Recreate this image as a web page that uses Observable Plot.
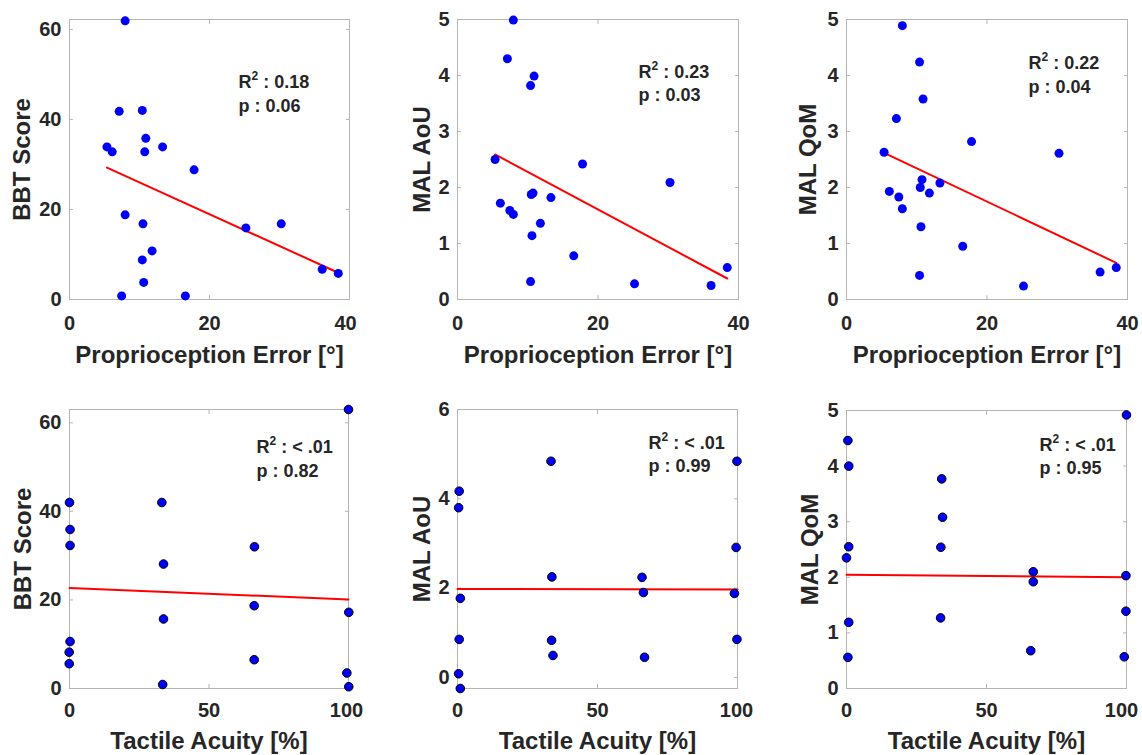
<!DOCTYPE html>
<html>
<head>
<meta charset="utf-8">
<script src="https://cdn.jsdelivr.net/npm/d3@7"></script>
<script src="https://cdn.jsdelivr.net/npm/@observablehq/plot@0.6"></script>
<style>
  html, body { margin: 0; padding: 0; background: #fff; }
  #chart { position: relative; width: 1142px; height: 755px; overflow: hidden; background: #fff; }
  #chart > div { position: absolute; }
</style>
</head>
<body>
<div id="chart"></div>
<script>
// ---------- DATA ----------
// Top row: proprioception error (degrees), one value per subject
const propError = [5.35, 6.1, 7.1, 7.45, 7.95, 7.95, 10.4, 10.4, 10.5, 10.6, 10.75, 10.9, 11.8, 13.3, 16.55, 17.8, 25.2, 30.25, 36.1, 38.4];
const bbtProp   = [33.9, 32.8, 41.8, 0.8, 61.9, 18.8, 42, 8.8, 16.8, 3.8, 32.8, 35.8, 10.8, 33.9, 0.8, 28.8, 15.9, 16.8, 6.7, 5.8];
const aouProp   = [2.5, 1.72, 4.30, 1.59, 4.99, 1.52, 3.82, 0.32, 1.875, 1.14, 1.9, 3.99, 1.36, 1.82, 0.78, 2.42, 0.28, 2.09, 0.25, 0.57];
const qomProp   = [2.63, 1.93, 3.23, 1.83, 4.89, 1.62, 4.24, 0.43, 2.0, 1.30, 2.14, 3.58, 1.9, 2.08, 0.95, 2.82, 0.24, 2.61, 0.49, 0.57];

// Bottom row: tactile acuity (%) as plotted in each panel
const tactileBBT = [0, 0.2, 0.2, 0.2, -0.1, -0.1, 33.1, 33.7, 33.7, 33.4, 66.3, 66.2, 66.2, 100, 100.1, 99.4, 100.1];
const bbtTact    = [42, 35.9, 32.3, 10.6, 8.2, 5.6, 42, 28.1, 15.7, 0.9, 32, 18.7, 6.5, 63, 17.2, 3.5, 0.4];
const tactileAoU = [0.6, 0.4, 1.0, 0.6, 0.4, 1.0, 33.4, 33.7, 33.6, 34.1, 65.9, 66.4, 66.8, 99.8, 99.5, 98.9, 99.8];
const aouTact    = [4.17, 3.8, 1.77, 0.85, 0.08, -0.25, 4.84, 2.25, 0.83, 0.49, 2.24, 1.9, 0.45, 4.84, 2.91, 1.88, 0.85];
const tactileQoM = [0.5, 0.8, 0.8, 0.0, 0.8, 0.5, 34.0, 34.3, 33.7, 33.6, 66.7, 66.7, 65.8, 100, 99.8, 99.8, 99.2];
const qomTact    = [4.46, 4.0, 2.55, 2.35, 1.19, 0.56, 3.77, 3.08, 2.54, 1.27, 2.1, 1.92, 0.68, 4.92, 2.03, 1.39, 0.57];

// Least-squares fit lines (end points)
const fitPropX = [5.35, 38.4];
const fitBBTProp = [29.3, 5.95];
const fitAoUProp = [2.59, 0.375];
const fitQoMProp = [2.62, 0.655];
const fitTactX = [0, 100];
const fitBBTTact = [22.7, 20.1];
const fitAoUTact = [1.98, 1.97];
const fitQoMTact = [2.045, 2.0];

// Statistics labels
const r2Labels = ["0.18", "0.23", "0.22", "< .01", "< .01", "< .01"];
const pLabels  = ["0.06", "0.03", "0.04", "0.82", "0.99", "0.95"];

// Axis labels and ticks
const yLabels = ["BBT Score", "MAL AoU", "MAL QoM"];
const xLabels = ["Proprioception Error [°]", "Tactile Acuity [%]"];
const propTicks = [0, 20, 40];
const tactTicks = [0, 50, 100];
const bbtTicks = [0, 20, 40, 60];
const malTicks5 = [0, 1, 2, 3, 4, 5];
const malTicks6 = [0, 2, 4, 6];

// ---------- LAYOUT / STYLE ----------
const FONT = "'Liberation Sans', Arial, Helvetica, sans-serif";
const TXT = "#262626";
const BOX = "#b4b4b4";

const panels = [
  {x: propError, y: bbtProp, fx: fitPropX, fy: fitBBTProp, xd: [0, 40], yd: [0, 62.2], xt: propTicks, yt: bbtTicks, xl: xLabels[0], yl: yLabels[0], i: 0, outline: false,
   L: {left: 0, top: 0, w: 380, h: 374, mL: 69, mR: 31, mT: 19, mB: 75, aDx: 169, aDy: [68, 92], yDx: -47, xDy: 63, xPad: 16, lastDx: -4}},
  {x: propError, y: aouProp, fx: fitPropX, fy: fitAoUProp, xd: [0, 40], yd: [0, 5], xt: propTicks, yt: malTicks5, xl: xLabels[0], yl: yLabels[1], i: 1, outline: false,
   L: {left: 380, top: 0, w: 380, h: 374, mL: 77, mR: 22, mT: 19, mB: 75, aDx: 181, aDy: [58, 81], yDx: -35, xDy: 63, xPad: 16, lastDx: 0}},
  {x: propError, y: qomProp, fx: fitPropX, fy: fitQoMProp, xd: [0, 40], yd: [0, 5], xt: propTicks, yt: malTicks5, xl: xLabels[0], yl: yLabels[2], i: 2, outline: false,
   L: {left: 760, top: 0, w: 382, h: 374, mL: 86, mR: 15, mT: 19, mB: 75, aDx: 182, aDy: [49, 73], yDx: -38, xDy: 63, xPad: 16, lastDx: 0}},
  {x: tactileBBT, y: bbtTact, fx: fitTactX, fy: fitBBTTact, xd: [0, 100], yd: [0, 63], xt: tactTicks, yt: bbtTicks, xl: xLabels[1], yl: yLabels[0], i: 3, outline: true,
   L: {left: 0, top: 374, w: 380, h: 381, mL: 69, mR: 32, mT: 35, mB: 67, aDx: 187, aDy: [43, 67], yDx: -46.5, xDy: 60, xPad: 14, lastDx: -2}},
  {x: tactileAoU, y: aouTact, fx: fitTactX, fy: fitAoUTact, xd: [0, 100], yd: [-0.25, 6], xt: tactTicks, yt: malTicks6, xl: xLabels[1], yl: yLabels[1], i: 4, outline: true,
   L: {left: 380, top: 374, w: 380, h: 381, mL: 77, mR: 23, mT: 35, mB: 67, aDx: 191, aDy: [39, 62], yDx: -35, xDy: 60, xPad: 14, lastDx: -1}},
  {x: tactileQoM, y: qomTact, fx: fitTactX, fy: fitQoMTact, xd: [0, 100], yd: [0, 5], xt: tactTicks, yt: malTicks5, xl: xLabels[1], yl: yLabels[2], i: 5, outline: true,
   L: {left: 760, top: 374, w: 382, h: 381, mL: 86, mR: 16, mT: 36, mB: 67, aDx: 193, aDy: [40, 63], yDx: -36, xDy: 60, xPad: 14, lastDx: -5}}
];

const chart = document.getElementById("chart");
const intFmt = d => String(d);

for (const P of panels) {
  const L = P.L;
  const pts = P.x.map((v, k) => ({x: v, y: P.y[k]}));
  const fit = P.fx.map((v, k) => ({x: v, y: P.fy[k]}));
  const blank = () => "";
  const xLabelOpts = {anchor: "bottom", tickSize: 0, tickPadding: L.xPad, tickFormat: intFmt, fontSize: 20, fill: TXT, label: null};
  const svg = Plot.plot({
    width: L.w, height: L.h,
    marginLeft: L.mL, marginRight: L.mR, marginTop: L.mT, marginBottom: L.mB,
    x: {domain: P.xd, label: null},
    y: {domain: P.yd, label: null},
    style: {fontFamily: FONT, fontWeight: "bold", color: TXT, background: "transparent", overflow: "visible", fontSize: "20px"},
    marks: [
      Plot.frame({stroke: BOX, strokeWidth: 1}),
      // inward tick marks on all four sides
      Plot.axisX({ticks: P.xt, anchor: "bottom", tickSize: 4, dy: -4, tickFormat: blank, stroke: BOX, label: null}),
      Plot.axisX({ticks: P.xt, anchor: "top", tickSize: 4, dy: 4, tickFormat: blank, stroke: BOX, label: null}),
      Plot.axisY({ticks: P.yt, anchor: "left", tickSize: 4, dx: 4, tickFormat: blank, stroke: BOX, label: null}),
      Plot.axisY({ticks: P.yt, anchor: "right", tickSize: 4, dx: -4, tickFormat: blank, stroke: BOX, label: null}),
      // tick labels (the last x label sits slightly inward, as in the figure)
      Plot.axisX({...xLabelOpts, ticks: P.xt.slice(0, -1)}),
      Plot.axisX({...xLabelOpts, ticks: P.xt.slice(-1), dx: L.lastDx}),
      Plot.axisY({ticks: P.yt, anchor: "left", tickSize: 0, tickPadding: 8, tickFormat: intFmt, fontSize: 20, fill: TXT, label: null}),
      // axis titles
      Plot.text([P.xl], {frameAnchor: "bottom", dy: L.xDy, lineAnchor: "bottom", textAnchor: "middle", fontSize: 24, fontWeight: "bold", fill: TXT}),
      Plot.text([P.yl], {frameAnchor: "left", dx: L.yDx, rotate: -90, lineAnchor: "middle", textAnchor: "middle", fontSize: 24, fontWeight: "bold", fill: TXT}),
      // fit line
      Plot.line(fit, {x: "x", y: "y", stroke: "#ff0000", strokeWidth: 2}),
      // subjects
      Plot.dot(pts, {x: "x", y: "y", r: P.outline ? 4.3 : 4.5, fill: "#0000f5", stroke: P.outline ? "#000" : "none", strokeWidth: 1}),
      // statistics
      Plot.text([`R² : ${r2Labels[P.i]}`], {frameAnchor: "top-left", dx: L.aDx, dy: L.aDy[0], lineAnchor: "bottom", textAnchor: "start", fontSize: 18, fontWeight: "bold", fill: TXT}),
      Plot.text([`p : ${pLabels[P.i]}`], {frameAnchor: "top-left", dx: L.aDx, dy: L.aDy[1], lineAnchor: "bottom", textAnchor: "start", fontSize: 18, fontWeight: "bold", fill: TXT})
    ]
  });
  // render the "²" as a proper superscript, as in the original figure
  svg.querySelectorAll("text").forEach(t => {
    if (t.children.length === 0 && t.textContent.startsWith("R²")) {
      const rest = t.textContent.slice(2);
      const NS = "http://www.w3.org/2000/svg";
      t.textContent = "R";
      const sup = document.createElementNS(NS, "tspan");
      sup.setAttribute("dy", "-8");
      sup.setAttribute("font-size", "12");
      sup.textContent = "2";
      const tail = document.createElementNS(NS, "tspan");
      tail.setAttribute("dy", "8");
      tail.textContent = rest;
      t.appendChild(sup);
      t.appendChild(tail);
    }
  });
  const holder = document.createElement("div");
  holder.style.left = L.left + "px";
  holder.style.top = L.top + "px";
  holder.appendChild(svg);
  chart.appendChild(holder);
}
</script>
</body>
</html>
